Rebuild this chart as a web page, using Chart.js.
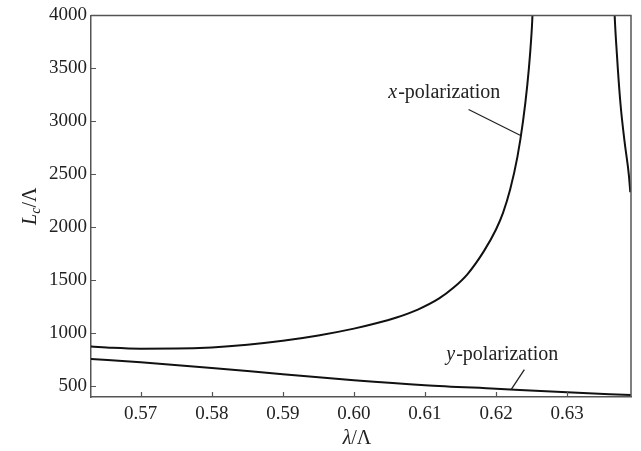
<!DOCTYPE html>
<html>
<head>
<meta charset="utf-8">
<script src="https://cdn.jsdelivr.net/npm/chart.js@4/dist/chart.umd.min.js"></script>
<style>
html,body{margin:0;padding:0;background:#fff;}
#wrap{width:641px;height:451px;}
</style>
</head>
<body>
<div id="wrap"><canvas id="c" width="641" height="451"></canvas></div>
<script>
// ---- data ----
const xPolBranch1X = [0.563, 0.566, 0.570, 0.575, 0.580, 0.585, 0.590, 0.595, 0.600, 0.603, 0.606, 0.609, 0.612, 0.614, 0.616, 0.6183, 0.620, 0.621, 0.622, 0.623, 0.6238, 0.6244, 0.6248, 0.6251, 0.6253];
const xPolBranch1Y = [877, 864, 856, 857, 868, 893, 930, 980, 1045, 1093, 1150, 1225, 1330, 1430, 1560, 1776, 1980, 2140, 2360, 2660, 3000, 3340, 3640, 3950, 4300];
const xPolBranch2X = [0.6366, 0.6367, 0.6370, 0.6375, 0.6381, 0.6387, 0.6389];
const xPolBranch2Y = [4200, 4000, 3649, 3181, 2806, 2494, 2332];
const yPolX = [0.563, 0.570, 0.580, 0.590, 0.600, 0.610, 0.620, 0.630, 0.639];
const yPolY = [759, 728, 674, 615, 559, 512, 478, 444, 418];
const xTicks = [0.57, 0.58, 0.59, 0.60, 0.61, 0.62, 0.63];
const yTicks = [500, 1000, 1500, 2000, 2500, 3000, 3500, 4000];
const xRange = [0.563, 0.639];
const yRange = [400, 4000];

// annotation anchors in data coordinates
const annotations = [
  { italic: 'x', rest: '-polarization', at: [0.61266, 3218], leader: [[0.61614, 3112], [0.62339, 2869]] },
  { italic: 'y', rest: '-polarization', at: [0.62082, 746], leader: [[0.62399, 659], [0.62215, 472]] }
];

const zip = (xs, ys) => xs.map((v, i) => ({ x: v, y: ys[i] }));

const SERIF = "'Liberation Serif', 'Times New Roman', serif";
const FRAME = '#555';
const TEXT = '#222';
const LINE = '#111';

const decor = {
  id: 'decor',
  afterDraw(chart) {
    const { ctx, chartArea: a, scales: { x, y } } = chart;
    ctx.save();
    // top & right frame
    ctx.strokeStyle = FRAME;
    ctx.lineWidth = 1.5;
    ctx.beginPath();
    ctx.moveTo(a.left, a.top);
    ctx.lineTo(a.right, a.top);
    ctx.lineTo(a.right, a.bottom);
    ctx.stroke();
    // inward ticks
    ctx.lineWidth = 1.2;
    ctx.beginPath();
    xTicks.forEach(v => { const px = Math.round(x.getPixelForValue(v)) + 0.5; ctx.moveTo(px, a.bottom); ctx.lineTo(px, a.bottom - 5); });
    yTicks.forEach(v => { const py = Math.round(y.getPixelForValue(v)) + 0.5; ctx.moveTo(a.left, py); ctx.lineTo(a.left + 5, py); });
    ctx.stroke();

    // annotations
    ctx.fillStyle = TEXT;
    ctx.strokeStyle = '#222';
    ctx.lineWidth = 1.3;
    ctx.textBaseline = 'alphabetic';
    annotations.forEach(an => {
      ctx.font = `italic 20px ${SERIF}`;
      const w1 = ctx.measureText(an.italic).width;
      ctx.font = `20px ${SERIF}`;
      const w2 = ctx.measureText(an.rest).width;
      const cx = x.getPixelForValue(an.at[0]);
      const by = y.getPixelForValue(an.at[1]);
      let sx = cx - (w1 + w2) / 2;
      ctx.font = `italic 20px ${SERIF}`;
      ctx.fillText(an.italic, sx, by);
      ctx.font = `20px ${SERIF}`;
      ctx.fillText(an.rest, sx + w1 + 1, by);
      ctx.beginPath();
      ctx.moveTo(x.getPixelForValue(an.leader[0][0]), y.getPixelForValue(an.leader[0][1]));
      ctx.lineTo(x.getPixelForValue(an.leader[1][0]), y.getPixelForValue(an.leader[1][1]));
      ctx.stroke();
    });

    // x axis title: λ/Λ (λ italic)
    {
      const cx = (a.left + a.right) / 2 - 4;
      const by = a.bottom + 47;
      ctx.font = `italic 20px ${SERIF}`;
      const w1 = ctx.measureText('λ').width;
      ctx.font = `20px ${SERIF}`;
      const w2 = ctx.measureText('/Λ').width;
      let sx = cx - (w1 + w2) / 2;
      ctx.font = `italic 20px ${SERIF}`;
      ctx.fillText('λ', sx, by);
      ctx.font = `20px ${SERIF}`;
      ctx.fillText('/Λ', sx + w1, by);
    }
    // y axis title: L_c/Λ rotated
    {
      const cy = (a.top + a.bottom) / 2;
      ctx.translate(36, cy);
      ctx.rotate(-Math.PI / 2);
      ctx.font = `italic 20px ${SERIF}`;
      const wL = ctx.measureText('L').width;
      ctx.font = `italic 14px ${SERIF}`;
      const wc = ctx.measureText('c').width;
      ctx.font = `20px ${SERIF}`;
      const wR = ctx.measureText('/Λ').width;
      let sx = -(wL + wc + wR) / 2;
      ctx.font = `italic 20px ${SERIF}`;
      ctx.fillText('L', sx, 0);
      ctx.font = `italic 14px ${SERIF}`;
      ctx.fillText('c', sx + wL, 4);
      ctx.font = `20px ${SERIF}`;
      ctx.fillText('/Λ', sx + wL + wc, 0);
    }
    ctx.restore();
  }
};

const lineStyle = { showLine: true, borderColor: LINE, borderWidth: 2, pointRadius: 0, fill: false, cubicInterpolationMode: 'monotone' };

new Chart(document.getElementById('c'), {
  type: 'scatter',
  data: {
    datasets: [
      Object.assign({ label: 'x-polarization', data: zip(xPolBranch1X, xPolBranch1Y) }, lineStyle),
      Object.assign({ label: 'x-polarization (2)', data: zip(xPolBranch2X, xPolBranch2Y) }, lineStyle),
      Object.assign({ label: 'y-polarization', data: zip(yPolX, yPolY) }, lineStyle)
    ]
  },
  options: {
    responsive: false,
    animation: false,
    devicePixelRatio: 1,
    layout: { padding: { top: 12, right: 10, left: 0, bottom: 0 } },
    plugins: { legend: { display: false }, tooltip: { enabled: false } },
    scales: {
      x: {
        type: 'linear',
        min: xRange[0], max: xRange[1],
        afterBuildTicks: s => { s.ticks = xTicks.map(v => ({ value: v })); },
        afterFit: s => { s.height = 54; },
        grid: { display: false, drawTicks: false },
        border: { display: true, color: FRAME, width: 1.5 },
        ticks: { color: TEXT, font: { family: SERIF, size: 19 }, padding: 6, maxRotation: 0, callback: v => Number(v).toFixed(2) }
      },
      y: {
        type: 'linear',
        min: yRange[0], max: yRange[1],
        afterBuildTicks: s => { s.ticks = yTicks.map(v => ({ value: v })); },
        afterFit: s => { s.width = 91; },
        grid: { display: false, drawTicks: false },
        border: { display: true, color: FRAME, width: 1.5 },
        ticks: { color: TEXT, font: { family: SERIF, size: 19 }, padding: 4, callback: v => String(v) }
      }
    }
  },
  plugins: [decor]
});
</script>
</body>
</html>
